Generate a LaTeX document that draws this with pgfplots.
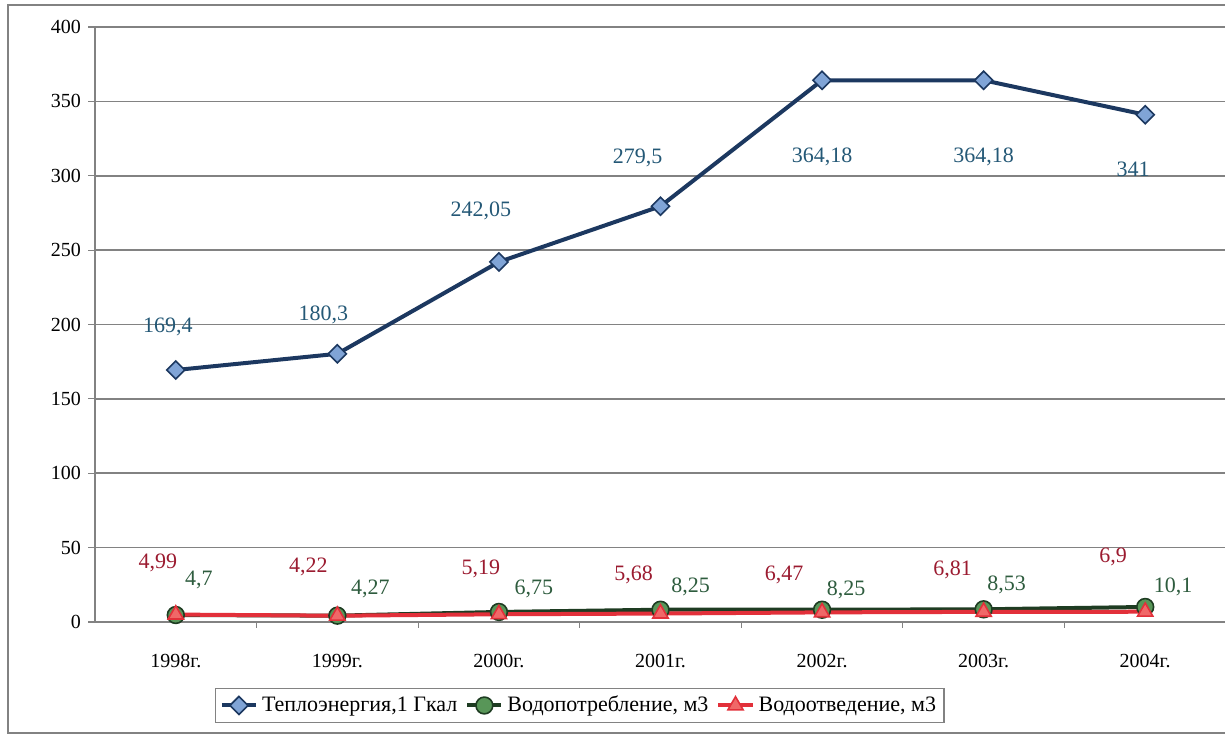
\documentclass[border=0pt]{standalone}
\usepackage{fontspec}
\setmainfont{Liberation Serif}
\usepackage{pgfplots}
\usepackage{pgfplotstable}
\pgfplotsset{compat=1.18}

\definecolor{bline}{RGB}{28,56,96}
\definecolor{bfill}{RGB}{128,164,214}
\definecolor{blab}{RGB}{36,88,118}
\definecolor{gline}{RGB}{30,60,34}
\definecolor{gfill}{RGB}{88,150,88}
\definecolor{glab}{RGB}{46,92,62}
\definecolor{rline}{RGB}{226,48,58}
\definecolor{rfill}{RGB}{240,104,104}
\definecolor{rlab}{RGB}{155,27,48}
\definecolor{gridc}{RGB}{130,130,130}

\pgfplotstableread{
x y lab dx dy
0 169.4 {169,4} -4 21.5
1 180.3 {180,3} -7 19.5
2 242.05 {242,05} -9 25.5
3 279.5 {279,5} -11.5 24
4 364.18 {364,18} 0 -38.5
5 364.18 {364,18} 0 -38.5
6 341 {341} -6 -27.5
}\heat

\pgfplotstableread{
x y lab dx dy
0 4.7 {4,7} 11.5 17.5
1 4.27 {4,27} 16.5 13.3
2 6.75 {6,75} 17.5 11.5
3 8.25 {8,25} 15 11.4
4 8.25 {8,25} 12 9.9
5 8.53 {8,53} 11.5 12
6 10.1 {10,1} 14 10
}\water

\pgfplotstableread{
x y lab dx dy
0 4.99 {4,99} -9 25.8
1 4.22 {4,22} -14.5 24.3
2 5.19 {5,19} -9 22.6
3 5.68 {5,68} -13.5 19.3
4 6.47 {6,47} -19 18.7
5 6.81 {6,81} -15.5 21
6 6.9 {6,9} -16 27.4
}\drain

\begin{document}
\begin{tikzpicture}
\useasboundingbox (0,0) rectangle (612.5pt,369pt);
\begin{scope}
\clip (0,0) rectangle (612.5pt,369pt);
\draw[gridc, line width=1pt] (4pt,2.5pt) rectangle (630pt,366.5pt);
\end{scope}
\begin{axis}[
  at={(47.5pt,58pt)}, anchor=south west,
  scale only axis,
  width=565.5pt, height=297.5pt,
  xmin=-0.5, xmax=6.5,
  ymin=0, ymax=400,
  ytick={0,50,...,400},
  xtick={0,...,6},
  xticklabels={1998г.,1999г.,2000г.,2001г.,2002г.,2003г.,2004г.},
  minor x tick num=1,
  axis lines*=left,
  axis line style={gridc, line width=0.8pt},
  tick align=outside,
  major tick length=3.5pt,
  minor tick length=3pt,
  x tick style={draw=none},
  minor x tick style={draw=gridc, line width=0.6pt},
  y tick style={draw=gridc, line width=0.6pt},
  ymajorgrids,
  major grid style={gridc, line width=0.8pt},
  tick label style={font=\fontsize{10}{12}\selectfont, black},
  /pgf/number format/assume math mode=true,
  xticklabel style={yshift=-9pt},
  yticklabel style={xshift=0pt},
  clip=false,
  legend columns=3,
  legend style={at={(0.4288,-0.1403)}, anchor=center, draw=gridc, line width=0.6pt,
    font=\fontsize{11}{12}\selectfont, inner sep=2pt,
    /tikz/every even column/.append style={column sep=2pt}},
  nodes near coords={\pgfplotspointmeta},
  point meta=explicit symbolic,
  visualization depends on={\thisrow{dx} \as \dx},
  visualization depends on={\thisrow{dy} \as \dy},
  nodes near coords style={anchor=center, xshift=\dx pt, yshift=\dy pt,
    font=\fontsize{11}{12}\selectfont},
]
\addplot[bline, line width=2pt, mark=square*, mark size=3.2pt,
  mark options={rotate=45, fill=bfill, draw=bline, line width=0.8pt},
  nodes near coords style={text=blab}]
  table[x=x, y=y, meta=lab] {\heat};
\addlegendentry{Теплоэнергия,1 Гкал}
\addplot[gline, line width=2pt, mark=*, mark size=4.2pt,
  mark options={fill=gfill, draw=gline, line width=0.8pt},
  nodes near coords style={text=glab}]
  table[x=x, y=y, meta=lab] {\water};
\addlegendentry{Водопотребление, м3}
\addplot[rline, line width=2pt, mark=triangle*, mark size=4.4pt,
  mark options={fill=rfill, draw=rline, line width=0.8pt},
  nodes near coords style={text=rlab}]
  table[x=x, y=y, meta=lab] {\drain};
\addlegendentry{Водоотведение, м3}
\end{axis}
\end{tikzpicture}
\end{document}
